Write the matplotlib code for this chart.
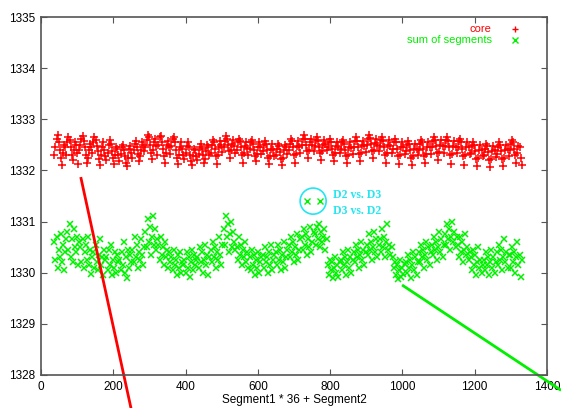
import matplotlib
matplotlib.use("Agg")
import matplotlib.pyplot as plt
from matplotlib.patches import Ellipse

# segment index: x = Segment1 * 36 + Segment2, sampled every 3rd Segment2
seg1 = list(range(1, 37))
seg2 = [1, 4, 7, 10, 13, 16, 19, 22, 25, 28, 31, 34]
x_idx = [s1 * 36 + s2 for s1 in seg1 for s2 in seg2]

# core values, one row per Segment1
core = [
    1332.30, 1332.45, 1332.62, 1332.70, 1332.55, 1332.40, 1332.25, 1332.10, 1332.35, 1332.50, 1332.45, 1332.30,
    1332.55, 1332.65, 1332.60, 1332.45, 1332.30, 1332.20, 1332.40, 1332.55, 1332.50, 1332.35, 1332.12, 1332.40,
    1332.50, 1332.62, 1332.68, 1332.58, 1332.45, 1332.30, 1332.15, 1332.25, 1332.40, 1332.52, 1332.46, 1332.35,
    1332.55, 1332.65, 1332.60, 1332.48, 1332.38, 1332.22, 1332.10, 1332.30, 1332.45, 1332.55, 1332.40, 1332.28,
    1332.20, 1332.35, 1332.50, 1332.60, 1332.52, 1332.38, 1332.25, 1332.12, 1332.30, 1332.45, 1332.42, 1332.30,
    1332.18, 1332.32, 1332.45, 1332.50, 1332.40, 1332.28, 1332.15, 1332.08, 1332.25, 1332.42, 1332.48, 1332.35,
    1332.25, 1332.40, 1332.52, 1332.58, 1332.45, 1332.32, 1332.18, 1332.28, 1332.40, 1332.55, 1332.50, 1332.38,
    1332.45, 1332.60, 1332.70, 1332.65, 1332.50, 1332.35, 1332.22, 1332.40, 1332.55, 1332.62, 1332.48, 1332.30,
    1332.50, 1332.65, 1332.68, 1332.55, 1332.42, 1332.28, 1332.15, 1332.35, 1332.50, 1332.58, 1332.45, 1332.32,
    1332.48, 1332.62, 1332.66, 1332.55, 1332.40, 1332.25, 1332.12, 1332.30, 1332.45, 1332.55, 1332.42, 1332.30,
    1332.22, 1332.35, 1332.48, 1332.55, 1332.45, 1332.30, 1332.18, 1332.10, 1332.28, 1332.42, 1332.40, 1332.28,
    1332.20, 1332.32, 1332.45, 1332.52, 1332.42, 1332.30, 1332.15, 1332.22, 1332.38, 1332.50, 1332.45, 1332.30,
    1332.35, 1332.50, 1332.60, 1332.55, 1332.42, 1332.28, 1332.12, 1332.30, 1332.45, 1332.58, 1332.50, 1332.36,
    1332.45, 1332.58, 1332.68, 1332.62, 1332.50, 1332.38, 1332.25, 1332.40, 1332.52, 1332.60, 1332.48, 1332.35,
    1332.40, 1332.55, 1332.62, 1332.58, 1332.45, 1332.30, 1332.15, 1332.35, 1332.48, 1332.56, 1332.44, 1332.30,
    1332.42, 1332.55, 1332.60, 1332.52, 1332.40, 1332.28, 1332.18, 1332.32, 1332.46, 1332.55, 1332.45, 1332.32,
    1332.38, 1332.50, 1332.58, 1332.52, 1332.40, 1332.25, 1332.12, 1332.28, 1332.42, 1332.52, 1332.40, 1332.28,
    1332.30, 1332.42, 1332.52, 1332.48, 1332.36, 1332.22, 1332.10, 1332.25, 1332.40, 1332.50, 1332.45, 1332.32,
    1332.40, 1332.52, 1332.62, 1332.58, 1332.45, 1332.30, 1332.15, 1332.32, 1332.48, 1332.58, 1332.46, 1332.34,
    1332.50, 1332.62, 1332.70, 1332.62, 1332.50, 1332.38, 1332.25, 1332.40, 1332.55, 1332.62, 1332.50, 1332.38,
    1332.48, 1332.60, 1332.65, 1332.58, 1332.46, 1332.34, 1332.20, 1332.38, 1332.50, 1332.60, 1332.52, 1332.40,
    1332.45, 1332.56, 1332.62, 1332.55, 1332.42, 1332.30, 1332.18, 1332.35, 1332.48, 1332.56, 1332.46, 1332.35,
    1332.42, 1332.55, 1332.60, 1332.52, 1332.40, 1332.28, 1332.15, 1332.30, 1332.45, 1332.55, 1332.44, 1332.32,
    1332.45, 1332.58, 1332.65, 1332.58, 1332.45, 1332.32, 1332.18, 1332.35, 1332.50, 1332.58, 1332.48, 1332.36,
    1332.50, 1332.62, 1332.70, 1332.64, 1332.52, 1332.38, 1332.24, 1332.40, 1332.54, 1332.62, 1332.50, 1332.38,
    1332.48, 1332.60, 1332.66, 1332.58, 1332.45, 1332.30, 1332.15, 1332.35, 1332.50, 1332.60, 1332.48, 1332.34,
    1332.42, 1332.55, 1332.62, 1332.55, 1332.42, 1332.28, 1332.12, 1332.30, 1332.45, 1332.55, 1332.45, 1332.32,
    1332.38, 1332.50, 1332.58, 1332.52, 1332.40, 1332.25, 1332.10, 1332.28, 1332.42, 1332.52, 1332.42, 1332.30,
    1332.40, 1332.52, 1332.60, 1332.55, 1332.42, 1332.28, 1332.15, 1332.32, 1332.46, 1332.55, 1332.45, 1332.32,
    1332.45, 1332.58, 1332.66, 1332.60, 1332.48, 1332.34, 1332.20, 1332.36, 1332.50, 1332.60, 1332.48, 1332.35,
    1332.48, 1332.60, 1332.65, 1332.58, 1332.45, 1332.30, 1332.12, 1332.32, 1332.48, 1332.58, 1332.46, 1332.34,
    1332.45, 1332.58, 1332.62, 1332.55, 1332.42, 1332.28, 1332.10, 1332.30, 1332.45, 1332.56, 1332.45, 1332.32,
    1332.35, 1332.48, 1332.56, 1332.50, 1332.38, 1332.22, 1332.08, 1332.25, 1332.40, 1332.50, 1332.40, 1332.28,
    1332.30, 1332.42, 1332.52, 1332.48, 1332.36, 1332.20, 1332.06, 1332.22, 1332.38, 1332.48, 1332.40, 1332.26,
    1332.32, 1332.45, 1332.55, 1332.50, 1332.38, 1332.22, 1332.08, 1332.25, 1332.40, 1332.50, 1332.42, 1332.28,
    1332.40, 1332.52, 1332.60, 1332.55, 1332.42, 1332.30, 1332.15, 1332.35, 1332.48, 1332.45, 1332.25, 1332.10,
]

# sum of segments, same layout
seg_sum = [
    1330.60, 1330.25, 1330.70, 1330.10, 1330.45, 1330.30, 1330.75, 1330.20, 1330.55, 1330.05, 1330.40, 1330.65,
    1330.80, 1330.45, 1330.95, 1330.30, 1330.65, 1330.20, 1330.85, 1330.50, 1330.40, 1330.70, 1330.15, 1330.60,
    1330.50, 1330.20, 1330.65, 1330.10, 1330.40, 1330.55, 1330.25, 1330.70, 1330.15, 1330.45, 1329.98, 1330.30,
    1330.40, 1330.10, 1330.55, 1330.20, 1330.05, 1330.35, 1330.65, 1330.15, 1330.30, 1329.95, 1330.45, 1330.25,
    1330.30, 1330.05, 1330.45, 1330.15, 1330.55, 1329.95, 1330.25, 1330.10, 1330.40, 1330.00, 1330.35, 1330.20,
    1330.25, 1330.05, 1330.40, 1330.15, 1330.60, 1330.00, 1330.30, 1329.90, 1330.45, 1330.10, 1330.35, 1330.20,
    1330.45, 1330.20, 1330.70, 1330.30, 1330.55, 1330.10, 1330.40, 1330.25, 1330.65, 1330.35, 1330.15, 1330.50,
    1330.80, 1330.50, 1331.05, 1330.60, 1330.90, 1330.35, 1330.70, 1331.10, 1330.55, 1330.85, 1330.45, 1330.65,
    1330.55, 1330.25, 1330.70, 1330.35, 1330.50, 1330.15, 1330.60, 1330.30, 1330.45, 1330.10, 1330.40, 1330.20,
    1330.30, 1330.05, 1330.45, 1330.15, 1330.25, 1329.95, 1330.35, 1330.10, 1330.40, 1330.00, 1330.20, 1330.15,
    1330.25, 1330.00, 1330.40, 1330.10, 1330.30, 1329.92, 1330.20, 1330.45, 1330.05, 1330.35, 1330.15, 1330.25,
    1330.30, 1330.10, 1330.50, 1330.20, 1330.40, 1330.00, 1330.25, 1330.55, 1330.15, 1330.35, 1329.95, 1330.30,
    1330.45, 1330.20, 1330.60, 1330.30, 1330.50, 1330.10, 1330.40, 1330.25, 1330.70, 1330.35, 1330.15, 1330.55,
    1330.85, 1330.55, 1331.10, 1330.70, 1330.95, 1330.40, 1330.75, 1331.00, 1330.50, 1330.80, 1330.60, 1330.45,
    1330.50, 1330.25, 1330.70, 1330.35, 1330.55, 1330.15, 1330.45, 1330.30, 1330.60, 1330.20, 1330.40, 1330.10,
    1330.30, 1330.05, 1330.45, 1330.15, 1330.35, 1329.95, 1330.25, 1330.10, 1330.40, 1330.00, 1330.20, 1330.30,
    1330.35, 1330.10, 1330.50, 1330.20, 1330.30, 1330.00, 1330.40, 1330.15, 1330.55, 1330.05, 1330.25, 1330.35,
    1330.40, 1330.15, 1330.55, 1330.25, 1330.45, 1330.05, 1330.35, 1330.20, 1330.60, 1330.10, 1330.30, 1330.45,
    1330.55, 1330.30, 1330.70, 1330.40, 1330.60, 1330.20, 1330.50, 1330.35, 1330.75, 1330.25, 1330.45, 1330.65,
    1330.70, 1330.45, 1330.85, 1330.55, 1330.75, 1330.35, 1330.65, 1330.50, 1330.90, 1330.40, 1330.60, 1330.80,
    1330.75, 1330.55, 1330.90, 1330.65, 1330.95, 1330.50, 1330.80, 1330.60, 1330.70, 1330.85, 1330.45, 1330.65,
    1330.15, 1329.95, 1330.25, 1330.05, 1330.20, 1329.90, 1330.10, 1330.30, 1330.00, 1330.15, 1329.92, 1330.20,
    1330.25, 1330.05, 1330.40, 1330.15, 1330.30, 1329.95, 1330.20, 1330.45, 1330.10, 1330.30, 1330.00, 1330.25,
    1330.40, 1330.20, 1330.55, 1330.30, 1330.45, 1330.10, 1330.35, 1330.60, 1330.25, 1330.45, 1330.15, 1330.40,
    1330.55, 1330.35, 1330.75, 1330.45, 1330.60, 1330.25, 1330.50, 1330.80, 1330.40, 1330.65, 1330.30, 1330.55,
    1330.65, 1330.40, 1330.85, 1330.50, 1330.70, 1330.30, 1330.60, 1330.95, 1330.45, 1330.55, 1330.35, 1330.50,
    1330.30, 1330.10, 1330.20, 1329.95, 1330.15, 1329.88, 1330.05, 1330.25, 1329.92, 1330.10, 1329.98, 1330.18,
    1330.20, 1330.00, 1330.35, 1330.10, 1330.25, 1329.90, 1330.15, 1330.40, 1330.05, 1330.30, 1329.95, 1330.20,
    1330.40, 1330.20, 1330.55, 1330.30, 1330.45, 1330.10, 1330.35, 1330.60, 1330.25, 1330.50, 1330.15, 1330.40,
    1330.55, 1330.35, 1330.70, 1330.45, 1330.60, 1330.25, 1330.50, 1330.80, 1330.40, 1330.65, 1330.30, 1330.55,
    1330.75, 1330.55, 1330.95, 1330.65, 1330.85, 1330.45, 1330.70, 1331.00, 1330.60, 1330.80, 1330.50, 1330.70,
    1330.55, 1330.30, 1330.70, 1330.40, 1330.60, 1330.20, 1330.45, 1330.75, 1330.35, 1330.50, 1330.25, 1330.40,
    1330.30, 1330.05, 1330.45, 1330.15, 1330.35, 1329.95, 1330.20, 1330.50, 1330.10, 1330.25, 1330.00, 1330.15,
    1330.25, 1330.05, 1330.40, 1330.15, 1330.30, 1329.95, 1330.20, 1330.45, 1330.10, 1330.30, 1330.00, 1330.20,
    1330.40, 1330.15, 1330.55, 1330.25, 1330.45, 1330.05, 1330.30, 1330.65, 1330.20, 1330.40, 1330.10, 1330.35,
    1330.35, 1330.10, 1330.50, 1330.20, 1330.40, 1330.00, 1330.30, 1330.60, 1330.15, 1330.35, 1329.92, 1330.25,
]

# the two circled points (D2 vs. D3 / D3 vs. D2)
odd_x = [736, 772]
odd_y = [1331.40, 1331.40]

# hand-drawn arrows
red_line_x = [110, 249]
red_line_y = [1331.87, 1327.35]
green_line_x = [999, 1439]
green_line_y = [1329.76, 1327.70]

RED = "#ff0000"
GREEN = "#00f000"
CYAN = "#22e6f0"
FRAME = "#555555"

plt.rcParams["font.family"] = ["Liberation Sans", "DejaVu Sans"]

fig = plt.figure(figsize=(5.61, 4.08), dpi=100)
ax = fig.add_axes([0.0731, 0.0809, 0.9019, 0.8774])

ax.plot(x_idx, core, linestyle="none", marker="+", markersize=6, mew=1.1, color=RED)
ax.plot(x_idx, seg_sum, linestyle="none", marker="x", markersize=5, mew=1.1, color=GREEN)
ax.plot(odd_x, odd_y, linestyle="none", marker="x", markersize=4, mew=1.0, color=GREEN)

ax.plot(red_line_x, red_line_y, color=RED, lw=2.0, clip_on=False, solid_capstyle="butt")
ax.plot(green_line_x, green_line_y, color=GREEN, lw=2.0, clip_on=False, solid_capstyle="butt")

ax.add_patch(Ellipse((753, 1331.40), 72, 0.51, fill=False, edgecolor=CYAN, lw=1.2))
serif = ["Liberation Serif", "DejaVu Serif"]
ax.text(808, 1331.52, "D2 vs. D3", color=CYAN, fontsize=8.5, fontweight="bold",
        family=serif, va="center", ha="left")
ax.text(808, 1331.21, "D3 vs. D2", color=CYAN, fontsize=8.5, fontweight="bold",
        family=serif, va="center", ha="left")

ax.set_xlim(0, 1400)
ax.set_ylim(1328, 1335)
ax.set_xticks(range(0, 1401, 200))
ax.set_yticks(range(1328, 1336))
ax.tick_params(direction="in", length=4, width=0.8, color=FRAME, labelsize=8.5,
               top=True, right=True, pad=4)
for sp in ax.spines.values():
    sp.set_color(FRAME)
    sp.set_linewidth(1.2)
ax.set_xlabel("Segment1 * 36 + Segment2", fontsize=8.5, labelpad=1)

# gnuplot-style key, text right-aligned before the sample
ax.text(0.891, 0.966, "core", transform=ax.transAxes, color=RED, fontsize=8,
        ha="right", va="center")
ax.text(0.891, 0.936, "sum of segments", transform=ax.transAxes, color=GREEN, fontsize=8,
        ha="right", va="center")
ax.plot([0.937], [0.966], transform=ax.transAxes, marker="+", markersize=5, mew=1.0,
        color=RED, linestyle="none")
ax.plot([0.937], [0.936], transform=ax.transAxes, marker="x", markersize=4, mew=1.0,
        color=GREEN, linestyle="none")

fig.savefig("out.png", dpi=100)
